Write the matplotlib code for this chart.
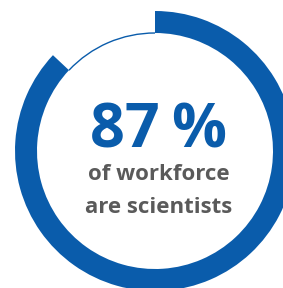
import matplotlib.pyplot as plt
from matplotlib.patches import Wedge, Arc

# data
share = 87
headline = "87\u2009%"
line1 = "of workforce"
line2 = "are scientists"

blue = "#0a5cab"
grey = "#5a5a5a"

W, H = 283, 288
fig = plt.figure(figsize=(W / 100, H / 100), dpi=100)
ax = fig.add_axes([0, 0, 1, 1])
ax.set_xlim(0, W)
ax.set_ylim(0, H)
ax.axis("off")

cx, cy = 155, H - 151
r_out, ring_w = 140, 22
start = 90 - 360 * share / 100

ax.add_patch(Wedge((cx, cy), r_out, start, 90, width=ring_w, color=blue, lw=0))
r_in = r_out - ring_w
ax.add_patch(Arc((cx, cy), 2 * r_in, 2 * r_in, theta1=90, theta2=start + 360,
                 color=blue, lw=1.0))

ax.text(158, H - 147, headline, color=blue, fontsize=44, fontweight="bold",
        family=["Open Sans", "DejaVu Sans"], ha="center", va="baseline")
ax.text(159, H - 180, line1, color=grey, fontsize=16, fontweight="bold",
        family="Open Sans", ha="center", va="baseline")
ax.text(159, H - 213, line2, color=grey, fontsize=16, fontweight="bold",
        family="Open Sans", ha="center", va="baseline")

fig.savefig("out.png", dpi=100, facecolor="white")
